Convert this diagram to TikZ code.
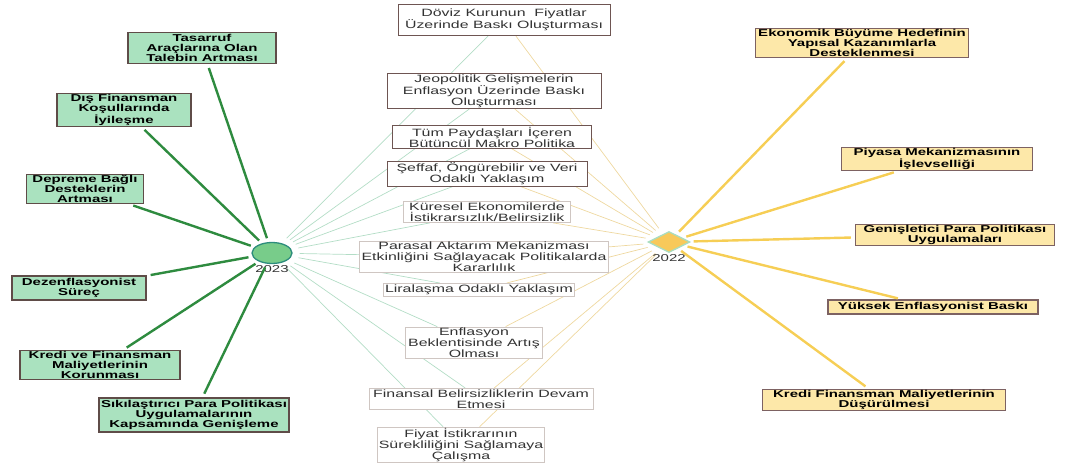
\documentclass[tikz,border=0pt]{standalone}
\usepackage{fontspec}
\setsansfont{Liberation Sans}[FakeStretch=1.5]
\usepackage{xcolor}
\usetikzlibrary{positioning,shapes.geometric,backgrounds}

\definecolor{boxgreen}{HTML}{AAE2BF}
\definecolor{boxyellow}{HTML}{FDE8A9}
\definecolor{boxedge}{HTML}{5F4C48}
\definecolor{boxedgey}{HTML}{7D6262}
\definecolor{midedge}{HTML}{6E5552}
\definecolor{midlight}{HTML}{CFC6C2}
\definecolor{linegreen}{HTML}{2E8B3F}
\definecolor{lineyellow}{HTML}{F6CE55}
\definecolor{thingreen}{HTML}{B3DDC6}
\definecolor{thinyellow}{HTML}{EED8A0}
\definecolor{dotgreen}{HTML}{78CC8A}
\definecolor{dotedge}{HTML}{2C8C7C}
\definecolor{dotyellow}{HTML}{F8C95A}
\definecolor{dotedgey}{HTML}{A9DDC0}

\begin{document}
\begin{tikzpicture}[x=1pt,y=-1pt,font=\sffamily]
	\tikzstyle{gbox}=[draw=boxedge, line width=1.4pt, fill=boxgreen, align=center, inner sep=1pt, font=\fontsize{10}{9.8}\selectfont\sffamily\bfseries]
	\tikzstyle{ybox}=[draw=boxedgey, line width=1.4pt, fill=boxyellow, align=center, inner sep=1pt, font=\fontsize{10}{9.8}\selectfont\sffamily\bfseries]
	\tikzstyle{mbox}=[draw=midedge, line width=1pt, fill=white, align=center, inner sep=1pt, text=black!80, font=\fontsize{10.6}{11}\selectfont\sffamily]
	\tikzstyle{lbox}=[mbox, draw=midlight]
	\tikzstyle{thickg}=[draw=linegreen, line width=2.4pt, shorten <=4pt, shorten >=4pt]
	\tikzstyle{thicky}=[draw=lineyellow, line width=2.4pt, shorten <=4pt, shorten >=4pt]
	\tikzstyle{thing}=[draw=thingreen, line width=0.7pt, shorten >=7pt]
	\tikzstyle{thiny}=[draw=thinyellow, line width=0.7pt, shorten >=7pt]
	\tikzstyle{year}=[inner sep=1pt, text=black!80, font=\fontsize{10}{10}\selectfont\sffamily]

	\useasboundingbox (0,0) rectangle (1078,468);

	% 2023 and 2022
	\node[ellipse, draw=dotedge, line width=1.3pt, fill=dotgreen, minimum width=40pt, minimum height=21pt, inner sep=0pt] (c23) at (272,253) {};
	\node[year] (y23) [below=0pt of c23] {2023};
	\node[diamond, aspect=2, draw=dotedgey, line width=1.3pt, fill=dotyellow, minimum width=42pt, minimum height=21pt, inner sep=0pt] (c22) at (669,242) {};
	\node[year] (y22) [below=0pt of c22] {2022};

	% left side
	\node[gbox, minimum width=148pt, minimum height=31pt] (tasarruf) at (202,48) {Tasarruf\\Araçlarına Olan\\Talebin Artması};
	\node[gbox, minimum width=134pt, minimum height=29pt] (disfin) at (124,110) {Dış Finansman\\Koşullarında\\İyileşme};
	\node[gbox, minimum width=117pt, minimum height=28pt] (deprem) at (85,189) {Depreme Bağlı\\Desteklerin\\Artması};
	\node[gbox, minimum width=134pt, minimum height=24pt] (dezenf) at (79,288) {Dezenflasyonist\\Süreç};
	\node[gbox, minimum width=160pt, minimum height=29pt] (kredi) at (100,365) {Kredi ve Finansman\\Maliyetlerinin\\Korunması};
	\node[gbox, minimum width=190pt, minimum height=34pt] (sikilas) at (194,415) {Sıkılaştırıcı Para Politikası\\Uygulamalarının\\Kapsamında Genişleme};

	% right side
	\node[ybox, minimum width=213pt, minimum height=28pt] (ekonomik) at (862,43) {Ekonomik Büyüme Hedefinin\\Yapısal Kazanımlarla\\Desteklenmesi};
	\node[ybox, minimum width=191pt, minimum height=22pt] (piyasa) at (937,159) {Piyasa Mekanizmasının\\İşlevselliği};
	\node[ybox, minimum width=199pt, minimum height=21pt] (genis) at (955,235) {Genişletici Para Politikası\\Uygulamaları};
	\node[ybox, minimum width=210pt, minimum height=14pt] (yuksek) at (933,307) {Yüksek Enflasyonist Baskı};
	\node[ybox, minimum width=243pt, minimum height=20pt] (kredifin) at (884,400) {Kredi Finansman Maliyetlerinin\\Düşürülmesi};

	% middle
	\node[mbox, minimum width=212pt, minimum height=31pt] (doviz) at (504,20) {Döviz Kurunun\ \ Fiyatlar\\Üzerinde Baskı Oluşturması};
	\node[mbox, minimum width=214pt, minimum height=35pt] (jeopol) at (494,91) {Jeopolitik Gelişmelerin\\Enflasyon Üzerinde Baskı\\Oluşturması};
	\node[mbox, minimum width=199pt, minimum height=21pt] (paydas) at (492,137) {Tüm Paydaşları İçeren\\Bütüncül Makro Politika};
	\node[mbox, minimum width=200pt, minimum height=22pt] (seffaf) at (487,174) {Şeffaf, Öngürebilir ve Veri\\Odaklı Yaklaşım};
	\node[lbox, minimum width=167pt, minimum height=20pt] (kuresel) at (487,212) {Küresel Ekonomilerde\\İstikrarsızlık/Belirsizlik};
	\node[lbox, minimum width=249pt, minimum height=30pt] (parasal) at (484,257) {Parasal Aktarım Mekanizması\\Etkinliğini Sağlayacak Politikalarda\\Kararlılık};
	\node[lbox, minimum width=191pt, minimum height=13pt] (liralasma) at (479,290) {Liralaşma Odaklı Yaklaşım};
	\node[lbox, minimum width=137pt, minimum height=30pt] (enflasyon) at (474,343) {Enflasyon\\Beklentisinde Artış\\Olması};
	\node[lbox, minimum width=224pt, minimum height=21pt] (finansal) at (481,399) {Finansal Belirsizliklerin Devam\\Etmesi};
	\node[lbox, minimum width=151pt, minimum height=30pt] (fiyat) at (461,445) {Fiyat İstikrarının\\Sürekliliğini Sağlamaya\\Çalışma};

	\begin{scope}[on background layer]
		\foreach \m in {doviz,jeopol,paydas,seffaf,kuresel,parasal,liralasma,enflasyon,finansal,fiyat}
		{
			\path[thing] (\m) edge (c23);
			\path[thiny] (\m) edge (c22);
		}
	\end{scope}

	\path[thickg]
		(tasarruf) edge (c23)
		(disfin) edge (c23)
		(deprem) edge (c23)
		(dezenf) edge (c23)
		(kredi) edge (c23)
		(sikilas) edge (c23);
	\path[thicky]
		(ekonomik) edge (c22)
		(piyasa) edge (c22)
		(genis) edge (c22)
		(yuksek) edge (c22)
		(kredifin) edge (c22);
\end{tikzpicture}
\end{document}
